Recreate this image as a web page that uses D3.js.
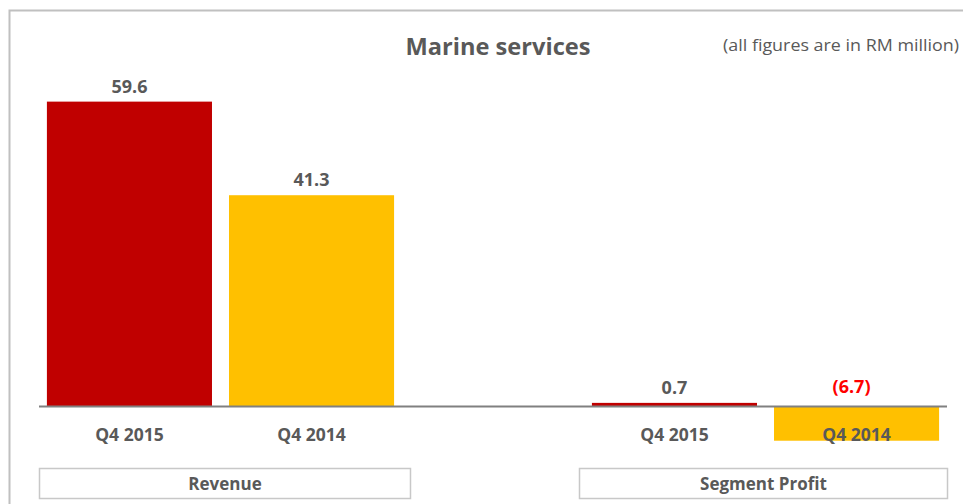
<!DOCTYPE html>
<html>
<head>
<meta charset="utf-8">
<script src="https://cdn.jsdelivr.net/npm/d3@7"></script>
<style>
html,body{margin:0;padding:0;background:#fff;}
svg{display:block;font-family:"Open Sans",sans-serif;}
</style>
</head>
<body>
<svg id="chart" width="963" height="504"></svg>
<script>
const groups = ["Revenue", "Segment Profit"];
const series = ["Q4 2015", "Q4 2014"];
const revenueValues = [59.6, 41.3];
const profitValues = [0.7, -6.7];
const valueLabels = [["59.6", "41.3"], ["0.7", "(6.7)"]];
const titleText = "Marine services";
const noteText = "(all figures are in RM million)";

const data = groups.map((g, gi) => ({
  group: g,
  values: series.map((s, si) => ({
    series: s,
    value: gi === 0 ? revenueValues[si] : profitValues[si],
    label: valueLabels[gi][si]
  }))
}));

const svg = d3.select("#chart");
const colors = d3.scaleOrdinal().domain(series).range(["#c00000", "#ffc000"]);
const textGray = "#595959";

// frame
svg.append("path")
  .attr("d", "M9.5,504 L9.5,10.5 L963,10.5")
  .attr("fill", "none").attr("stroke", "#c0c0c0").attr("stroke-width", 2);

const x0 = d3.scaleBand().domain(groups).range([39, 947])
  .paddingInner(0.363).paddingOuter(0.0145);
const x1 = d3.scaleBand().domain(series).range([0, x0.bandwidth()])
  .paddingInner(0.0934).paddingOuter(0);
const y = d3.scaleLinear().domain([-10, 65]).range([457.6, 74]);

// title
svg.append("text").attr("x", 498).attr("y", 55)
  .attr("text-anchor", "middle").attr("font-weight", "bold")
  .attr("font-size", 23).attr("fill", textGray)
  .attr("textLength", 185).attr("lengthAdjust", "spacingAndGlyphs")
  .text(titleText);
svg.append("text").attr("x", 959).attr("y", 51)
  .attr("text-anchor", "end").attr("font-size", 17).attr("fill", textGray)
  .attr("textLength", 236).attr("lengthAdjust", "spacingAndGlyphs")
  .text(noteText);

const g = svg.selectAll("g.grp").data(data).join("g")
  .attr("class", "grp")
  .attr("transform", d => `translate(${x0(d.group)},0)`);

g.selectAll("rect").data(d => d.values).join("rect")
  .attr("x", d => x1(d.series))
  .attr("width", x1.bandwidth())
  .attr("y", d => y(Math.max(0, d.value)))
  .attr("height", d => Math.abs(y(d.value) - y(0)))
  .attr("fill", d => colors(d.series));

// value labels
g.selectAll("text.val").data(d => d.values).join("text")
  .attr("class", "val")
  .attr("x", d => x1(d.series) + x1.bandwidth() / 2 - (d.value < 0 ? 5 : 0))
  .attr("y", d => d.value >= 0 ? y(d.value) - 9 : y(0) - 13)
  .attr("text-anchor", "middle").attr("font-weight", "bold")
  .attr("font-size", 18)
  .attr("fill", d => d.value < 0 ? "#ff0000" : textGray)
  .text(d => d.label);

// axis baseline
svg.append("line").attr("x1", 39).attr("x2", 947)
  .attr("y1", y(0)).attr("y2", y(0))
  .attr("stroke", "#808080").attr("stroke-width", 2);

// category labels
g.selectAll("text.cat").data(d => d.values).join("text")
  .attr("class", "cat")
  .attr("x", d => x1(d.series) + x1.bandwidth() / 2)
  .attr("y", 441)
  .attr("text-anchor", "middle").attr("font-weight", "bold")
  .attr("font-size", 17.5).attr("fill", textGray)
  .text(d => d.series);

// group boxes
const boxes = [{ x: 39.5, w: 371 }, { x: 579.5, w: 368 }];
g.append("rect")
  .attr("x", (d, i) => boxes[i].x - x0(d.group))
  .attr("y", 468.5).attr("width", (d, i) => boxes[i].w).attr("height", 30)
  .attr("fill", "#fff").attr("stroke", "#c8c8c8").attr("stroke-width", 1.5);
g.append("text")
  .attr("x", (d, i) => boxes[i].x - x0(d.group) + boxes[i].w / 2)
  .attr("y", 490)
  .attr("text-anchor", "middle").attr("font-weight", "bold")
  .attr("font-size", 17).attr("fill", textGray)
  .text(d => d.group);
</script>
</body>
</html>
